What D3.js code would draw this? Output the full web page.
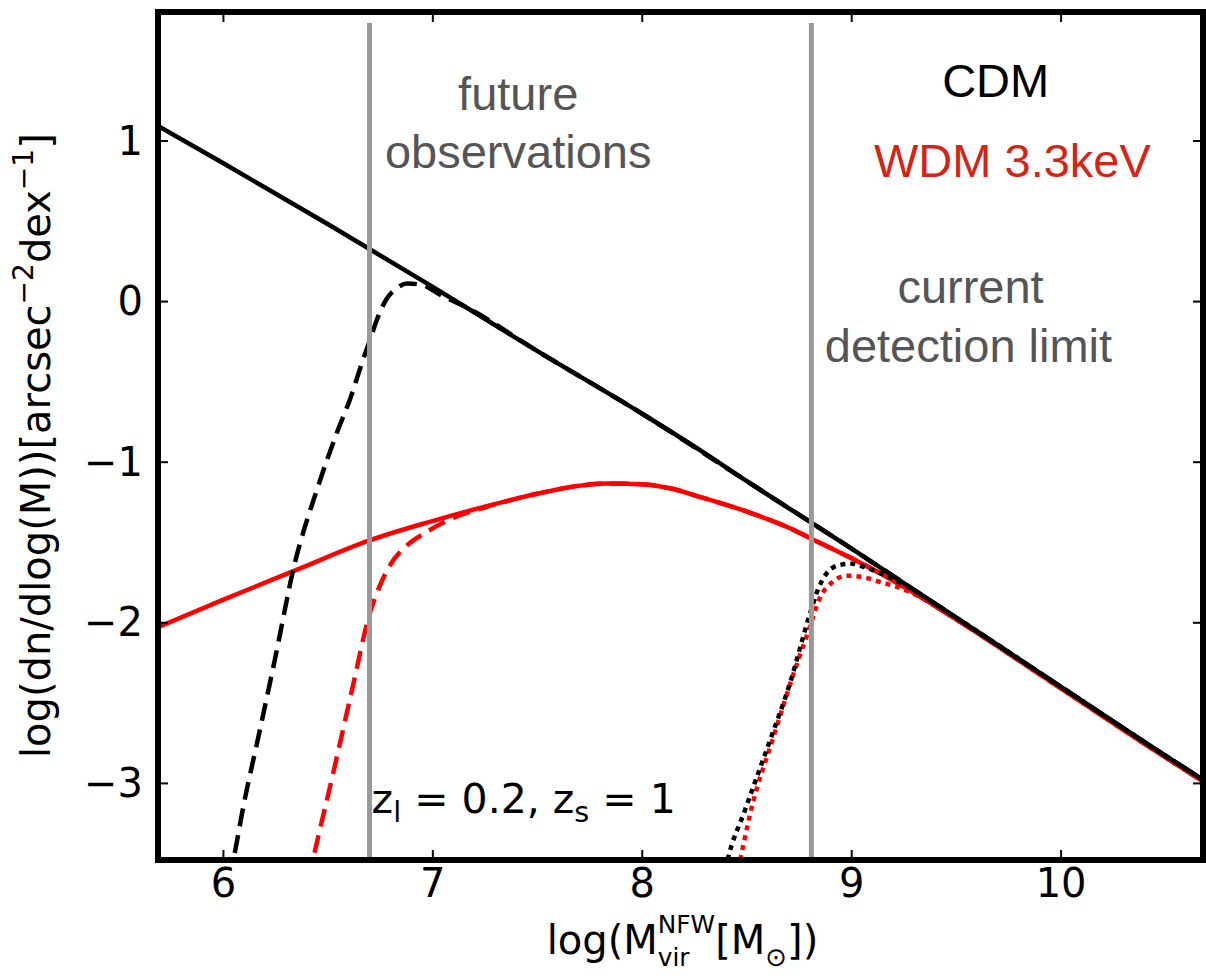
<!DOCTYPE html>
<html lang="en">
<head>
<meta charset="UTF-8" />
<title>Subhalo mass function: CDM vs WDM</title>
<script src="https://d3js.org/d3.v7.min.js"></script>
<style>
	body { margin: 0; background: #fff; }
	svg { display: block; background: #fff; }
	.axis text { font-family: "DejaVu Sans", sans-serif; font-size: 40px; fill: #000; }
	.math text { font-family: "DejaVu Sans", sans-serif; fill: #000; }
	.note { font-family: "Liberation Sans", Arial, sans-serif; font-size: 47px; text-anchor: middle; }
</style>
</head>
<body>
<svg width="1206" height="976"></svg>
<script>
// ticks
const xTicks = [6, 7, 8, 9, 10];
const yTicks = [1, 0, -1, -2, -3];

// gray vertical lines: future observations / current detection limit
const detectionLimits = [6.70, 8.81];

// [log M, log dn/dlogM]
const cdmSolid = [[5.69,1.09],[6.0,0.86],[6.5,0.48],[7.0,0.09],[7.5,-0.31],[8.0,-0.70],[8.28,-0.93],[8.5,-1.12],[8.81,-1.38],[9.0,-1.54],[9.5,-1.97],[10.0,-2.40],[10.5,-2.83],[10.68,-2.98]];
const cdmDashed = [[6.03,-3.6],[6.05,-3.48],[6.10,-3.13],[6.17,-2.71],[6.25,-2.22],[6.34,-1.65],[6.45,-1.17],[6.55,-0.80],[6.61,-0.60],[6.66,-0.40],[6.70,-0.25],[6.74,-0.10],[6.78,0.01],[6.83,0.08],[6.88,0.11],[6.95,0.10],[7.05,0.03],[7.15,-0.03],[7.5,-0.31],[8.0,-0.70],[8.5,-1.12],[9.0,-1.54],[9.5,-1.97],[10.0,-2.40],[10.5,-2.83],[10.68,-2.98]];
const cdmDotted = [[8.39,-3.6],[8.41,-3.48],[8.49,-3.18],[8.60,-2.78],[8.71,-2.37],[8.80,-1.96],[8.84,-1.80],[8.88,-1.70],[8.94,-1.645],[9.0,-1.635],[9.07,-1.66],[9.15,-1.70],[9.23,-1.75],[9.5,-1.97],[10.0,-2.40],[10.5,-2.83],[10.68,-2.98]];
const wdmSolid = [[5.69,-2.03],[6.0,-1.86],[6.34,-1.68],[6.70,-1.49],[7.0,-1.37],[7.25,-1.28],[7.5,-1.20],[7.7,-1.15],[7.83,-1.135],[8.0,-1.14],[8.15,-1.17],[8.28,-1.22],[8.5,-1.31],[8.7,-1.41],[8.81,-1.48],[9.0,-1.60],[9.2,-1.74],[9.5,-1.98],[10.0,-2.41],[10.5,-2.84],[10.68,-2.99]];
const wdmDashed = [[6.41,-3.6],[6.43,-3.48],[6.53,-2.92],[6.62,-2.40],[6.70,-1.95],[6.75,-1.77],[6.80,-1.64],[6.88,-1.52],[6.97,-1.44],[7.1,-1.35],[7.25,-1.285],[7.5,-1.20],[7.7,-1.15],[7.83,-1.135],[8.0,-1.14],[8.15,-1.17],[8.28,-1.22],[8.5,-1.31],[8.7,-1.41],[8.81,-1.48],[9.0,-1.60],[9.2,-1.74],[9.5,-1.98],[10.0,-2.41],[10.5,-2.84],[10.68,-2.99]];
const wdmDotted = [[8.45,-3.6],[8.47,-3.48],[8.52,-3.18],[8.63,-2.71],[8.73,-2.30],[8.80,-2.04],[8.85,-1.85],[8.91,-1.75],[8.98,-1.71],[9.06,-1.72],[9.14,-1.75],[9.22,-1.78],[9.31,-1.83],[9.5,-1.98],[10.0,-2.41],[10.5,-2.84],[10.68,-2.99]];

const plot = { left: 158, right: 1203, top: 12, bottom: 860 };

const svg = d3.select("svg");

const x = d3.scaleLinear().domain([5.69, 10.68]).range([plot.left, plot.right]);
const y = d3.scaleLinear().domain([-3.48, 1.80]).range([plot.bottom, plot.top]);

svg.append("defs").append("clipPath").attr("id", "clip")
	.append("rect")
	.attr("x", plot.left).attr("y", plot.top)
	.attr("width", plot.right - plot.left).attr("height", plot.bottom - plot.top);

const line = d3.line()
	.x(d => x(d[0]))
	.y(d => y(d[1]))
	.curve(d3.curveMonotoneX);

const curves = svg.append("g").attr("clip-path", "url(#clip)");

// red first, black drawn over it
const series = [
	{ data: wdmSolid, color: "#ff0000", dash: null },
	{ data: wdmDashed, color: "#ff0000", dash: "18,9" },
	{ data: wdmDotted, color: "#ff0000", dash: "5,5" },
	{ data: cdmSolid, color: "#000000", dash: null },
	{ data: cdmDashed, color: "#000000", dash: "18,9" },
	{ data: cdmDotted, color: "#000000", dash: "5,5" }
];

series.forEach(s => {
	curves.append("path")
		.datum(s.data)
		.attr("d", line)
		.attr("fill", "none")
		.attr("stroke", s.color)
		.attr("stroke-width", 4.5)
		.attr("stroke-dasharray", s.dash);
});

// detection limit lines
svg.append("g")
	.selectAll("line")
	.data(detectionLimits)
	.enter()
	.append("line")
	.attr("x1", d => x(d)).attr("x2", d => x(d))
	.attr("y1", 23).attr("y2", plot.bottom)
	.attr("stroke", "#999")
	.attr("stroke-width", 5);

// axes, ticks inside on all four sides
const axisBottom = svg.append("g")
	.attr("class", "axis")
	.attr("transform", `translate(0,${plot.bottom})`)
	.call(d3.axisBottom(x).tickValues(xTicks).tickSize(-10).tickPadding(9).tickFormat(d3.format("d")));

const axisLeft = svg.append("g")
	.attr("class", "axis")
	.attr("transform", `translate(${plot.left},0)`)
	.call(d3.axisLeft(y).tickValues(yTicks).tickSize(-10).tickPadding(15).tickFormat(d3.format("d")));

const axisTop = svg.append("g")
	.attr("class", "axis")
	.attr("transform", `translate(0,${plot.top})`)
	.call(d3.axisTop(x).tickValues(xTicks).tickSize(-10).tickFormat(""));

const axisRight = svg.append("g")
	.attr("class", "axis")
	.attr("transform", `translate(${plot.right},0)`)
	.call(d3.axisRight(y).tickValues(yTicks).tickSize(-10).tickFormat(""));

[axisBottom, axisLeft, axisTop, axisRight].forEach(a => {
	a.select(".domain").remove();
	a.selectAll(".tick line").attr("stroke", "#000").attr("stroke-width", 2);
});
axisBottom.selectAll(".tick text").attr("dy", "0.71em");
axisLeft.selectAll(".tick text").attr("dy", "0.34em");

// frame
svg.append("rect")
	.attr("x", plot.left).attr("y", plot.top)
	.attr("width", plot.right - plot.left).attr("height", plot.bottom - plot.top)
	.attr("fill", "none")
	.attr("stroke", "#000")
	.attr("stroke-width", 6);

// lays out mathtext-like pieces; each segment is a list of parts stacked at the same x
function mathText(parent, segments, size, anchor) {
	const g = parent.append("g").attr("class", "math");
	const inner = g.append("g");
	let cursor = 0;
	segments.forEach(seg => {
		let w = 0;
		seg.forEach(p => {
			const t = inner.append("text")
				.attr("x", cursor)
				.attr("y", (p.shift || 0) * size)
				.style("font-size", size * (p.scale || 1) + "px")
				.style("white-space", "pre")
				.text(p.t);
			w = Math.max(w, t.node().getComputedTextLength());
		});
		cursor += w;
	});
	if (anchor === "middle") inner.attr("transform", `translate(${-cursor / 2},0)`);
	return g;
}

// x axis label
mathText(svg, [
	[{ t: "log(M" }],
	[{ t: "NFW", scale: 0.62, shift: -0.52 }, { t: "vir", scale: 0.62, shift: 0.3 }],
	[{ t: "[M" }],
	[{ t: "\u2299", scale: 0.65, shift: 0.3 }],
	[{ t: "])" }]
], 40, "middle").attr("transform", `translate(${(plot.left + plot.right) / 2 + 2},954)`);

// y axis label
mathText(svg, [
	[{ t: "log(dn/dlog(M))[arcsec" }],
	[{ t: "\u22122", scale: 0.7, shift: -0.42 }],
	[{ t: "dex" }],
	[{ t: "\u22121", scale: 0.7, shift: -0.42 }],
	[{ t: "]" }]
], 40, "middle").attr("transform", `translate(50,${y(-0.9)}) rotate(-90)`);

// redshift note
mathText(svg, [
	[{ t: "z" }],
	[{ t: "l", scale: 0.7, shift: 0.22 }],
	[{ t: " = 0.2, z" }],
	[{ t: "s", scale: 0.7, shift: 0.22 }],
	[{ t: " = 1" }]
], 41, "start").attr("transform", `translate(${x(6.71)},${y(-3.19)})`);

// annotations
const notes = [
	{ t: "future", at: [7.41, 1.19], color: "#555555" },
	{ t: "observations", at: [7.41, 0.83], color: "#555555" },
	{ t: "CDM", at: [9.69, 1.27], color: "#000000" },
	{ t: "WDM 3.3keV", at: [9.77, 0.77], color: "#d42415" },
	{ t: "current", at: [9.57, -0.01], color: "#555555" },
	{ t: "detection limit", at: [9.56, -0.38], color: "#555555" }
];

svg.append("g")
	.selectAll("text")
	.data(notes)
	.enter()
	.append("text")
	.attr("class", "note")
	.attr("x", d => x(d.at[0]))
	.attr("y", d => y(d.at[1]))
	.attr("fill", d => d.color)
	.text(d => d.t);
</script>
</body>
</html>
